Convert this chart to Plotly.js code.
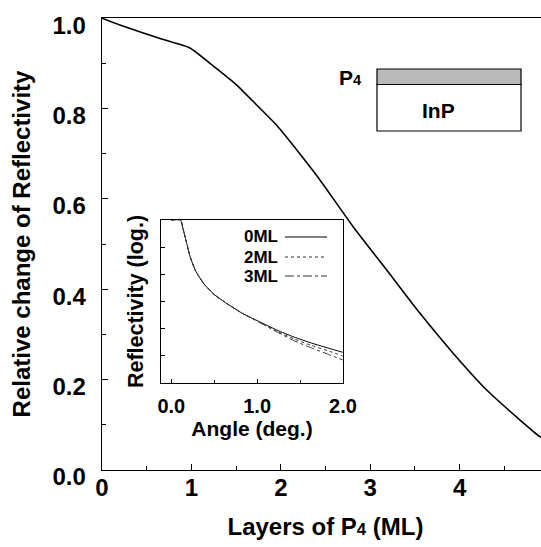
<!DOCTYPE html>
<html>
<head>
<meta charset="utf-8">
<script src="https://cdn.plot.ly/plotly-3.0.1.min.js"></script>
<style>
html,body{margin:0;padding:0;overflow:hidden;background:#fff;}
#chart{width:559px;height:547px;}
</style>
</head>
<body>
<div id="chart"></div>
<script>
// Main curve: relative change of reflectivity vs P4 layers
const layers = [0, 0.2, 0.462, 0.649, 0.984, 1.208, 1.507, 1.730, 1.954, 2.252, 2.438, 2.811, 3.185, 3.557, 3.930, 4.303, 4.676, 4.899, 5.0];
const relChange = [1.0, 0.985, 0.9675, 0.955, 0.934, 0.900, 0.852, 0.808, 0.763, 0.690, 0.642, 0.538, 0.4425, 0.3467, 0.258, 0.177, 0.1106, 0.0737, 0.062];

// Inset: reflectivity (log) vs angle
const angle = [0.0, 0.107, 0.139, 0.179, 0.22, 0.28, 0.381, 0.50, 0.663, 0.825, 1.027, 1.23, 1.43, 1.633, 1.834, 1.995];
const refl0ML = [1e0, 1e0, 4.5e-1, 1.4e-1, 4.4e-2, 1.4e-2, 4.4e-3, 1.8e-3, 7.8e-4, 3.7e-4, 1.8e-4, 8.9e-5, 4.9e-5, 2.95e-5, 1.9e-5, 1.35e-5];
const refl2ML = [1e0, 1e0, 4.5e-1, 1.4e-1, 4.4e-2, 1.4e-2, 4.4e-3, 1.8e-3, 7.8e-4, 3.7e-4, 1.75e-4, 8.1e-5, 4.2e-5, 2.4e-5, 1.5e-5, 1.0e-5];
const refl3ML = [1e0, 1e0, 4.5e-1, 1.4e-1, 4.4e-2, 1.4e-2, 4.4e-3, 1.8e-3, 7.8e-4, 3.7e-4, 1.7e-4, 7.6e-5, 3.6e-5, 1.95e-5, 1.12e-5, 7.1e-6];

const seriesNames = ['0ML', '2ML', '3ML'];
const mainXTicks = [0, 1, 2, 3, 4, 5];
const mainYTicks = [0, 0.2, 0.4, 0.6, 0.8, 1.0];
const mainYTickText = ['0.0', '0.2', '0.4', '0.6', '0.8', '1.0'];
const insetXTicks = [0, 1, 2];
const insetXTickText = ['0.0', '1.0', '2.0'];

const FONT = 'Liberation Sans, Arial, sans-serif';
const black = '#000';
const SUB4 = '<span style="font-size:70%">4</span>';

const traces = [
  {x: layers, y: relChange, type: 'scatter', mode: 'lines', line: {color: black, width: 1.6, shape: 'spline', smoothing: 0.5}, xaxis: 'x', yaxis: 'y', showlegend: false},
  {x: angle, y: refl0ML, type: 'scatter', mode: 'lines', name: seriesNames[0], line: {color: black, width: 1, dash: 'solid', shape: 'spline', smoothing: 0.5}, xaxis: 'x2', yaxis: 'y2', showlegend: false},
  {x: angle, y: refl2ML, type: 'scatter', mode: 'lines', name: seriesNames[1], line: {color: '#333', width: 1, dash: 'dot', shape: 'spline', smoothing: 0.5}, xaxis: 'x2', yaxis: 'y2', showlegend: false},
  {x: angle, y: refl3ML, type: 'scatter', mode: 'lines', name: seriesNames[2], line: {color: '#333', width: 1, dash: 'dashdot', shape: 'spline', smoothing: 0.5}, xaxis: 'x2', yaxis: 'y2', showlegend: false}
];

// legend rows (custom: text left of sample line)
const legY = [0.5155, 0.4712, 0.4292];
const legDash = ['solid', 'dot', 'dashdot'];
const shapes = [];
const annotations = [];
seriesNames.forEach((n, i) => {
  annotations.push({xref: 'paper', yref: 'paper', x: 0.3971, y: legY[i], xanchor: 'right', yanchor: 'middle', text: n, showarrow: false, font: {family: FONT, size: 17, weight: 'bold', color: black}});
  shapes.push({type: 'line', xref: 'paper', yref: 'paper', x0: 0.4094, x1: 0.5034, y0: legY[i], y1: legY[i], line: {color: i === 0 ? black : '#333', width: 1, dash: legDash[i]}});
});

// schematic: P4 layer on InP
shapes.push({type: 'rect', xref: 'paper', yref: 'paper', x0: 0.6152, x1: 0.9374, y0: 0.8529, y1: 0.8872, fillcolor: '#b9b9b9', line: {color: black, width: 1.2}});
shapes.push({type: 'rect', xref: 'paper', yref: 'paper', x0: 0.6152, x1: 0.9374, y0: 0.75, y1: 0.8529, fillcolor: 'rgba(0,0,0,0)', line: {color: black, width: 1.2}});
annotations.push({xref: 'paper', yref: 'paper', x: 0.557, y: 0.8673, xanchor: 'center', yanchor: 'middle', text: 'P' + SUB4, showarrow: false, font: {family: FONT, size: 21, weight: 'bold', color: black}});
annotations.push({xref: 'paper', yref: 'paper', x: 0.7528, y: 0.7954, xanchor: 'center', yanchor: 'middle', text: 'InP', showarrow: false, font: {family: FONT, size: 21, weight: 'bold', color: black}});

const tickFont = {family: FONT, size: 24, weight: 'bold', color: black};
const layout = {
  width: 559, height: 547,
  margin: {l: 102, r: 10, t: 18, b: 77, autoexpand: false},
  paper_bgcolor: '#fff', plot_bgcolor: 'rgba(0,0,0,0)',
  showlegend: false,
  xaxis: {
    domain: [0, 1], range: [0, 5], tickvals: mainXTicks, ticktext: mainXTicks.map(String),
    ticks: 'inside', ticklen: 6, tickwidth: 1, tickcolor: black,
    minor: {dtick: 0.5, ticks: 'inside', ticklen: 4, tickcolor: black},
    showline: true, mirror: true, linecolor: black, linewidth: 1.3, showgrid: false, zeroline: false,
    tickfont: tickFont, ticklabelstandoff: -4, ticklabeloverflow: 'allow',
    title: {text: 'Layers of P' + SUB4 + ' (ML)', font: {family: FONT, size: 24, weight: 'bold', color: black}, standoff: 18}
  },
  yaxis: {
    domain: [0, 1], range: [0, 1.0005], tickvals: mainYTicks, ticktext: mainYTickText,
    ticks: 'inside', ticklen: 6, tickwidth: 1, tickcolor: black,
    minor: {dtick: 0.1, ticks: 'inside', ticklen: 4, tickcolor: black},
    showline: true, mirror: true, linecolor: black, linewidth: 1.3, showgrid: false, zeroline: false,
    tickfont: tickFont, ticklabelstandoff: 10, ticklabelshift: 7, ticklabeloverflow: 'allow',
    title: {text: 'Relative change of Reflectivity', font: {family: FONT, size: 24, weight: 'bold', color: black}, standoff: 15}
  },
  xaxis2: {
    domain: [0.132, 0.5391], anchor: 'y2', range: [-0.12, 2.0], tickvals: insetXTicks, ticktext: insetXTickText,
    ticks: 'inside', ticklen: 4, tickcolor: black,
    minor: {dtick: 0.5, ticks: 'inside', ticklen: 3, tickcolor: black},
    showline: true, mirror: true, linecolor: black, linewidth: 1.2, showgrid: false, zeroline: false,
    tickfont: {family: FONT, size: 20, weight: 'bold', color: black}, ticklabelstandoff: 5, ticklabeloverflow: 'allow',
    title: {text: 'Angle (deg.)', font: {family: FONT, size: 21, weight: 'bold', color: black}, standoff: 3}
  },
  yaxis2: {
    domain: [0.1925, 0.5531], anchor: 'x2', type: 'log', range: [-6, 0], dtick: 1,
    ticks: 'inside', ticklen: 4, tickcolor: black, showticklabels: false,
    showline: true, mirror: true, linecolor: black, linewidth: 1.2, showgrid: false, zeroline: false,
    title: {text: 'Reflectivity (log.)', font: {family: FONT, size: 21.5, weight: 'bold', color: black}, standoff: 10}
  },
  shapes: shapes,
  annotations: annotations
};

Plotly.newPlot('chart', traces, layout, {staticPlot: true, displayModeBar: false});
</script>
</body>
</html>
